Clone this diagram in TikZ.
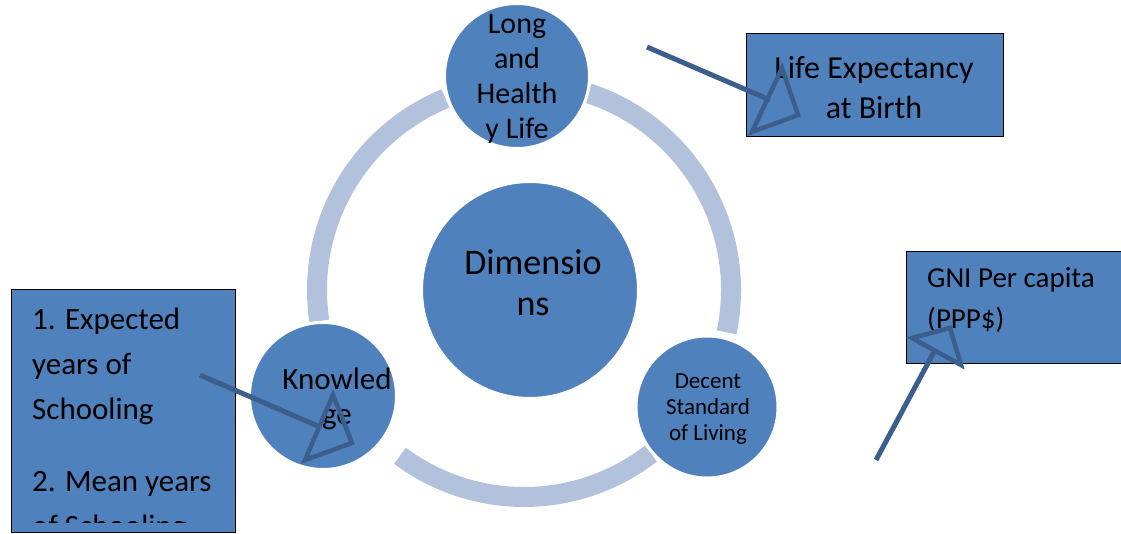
\documentclass[tikz,border=0pt]{standalone}
\usepackage{fontspec}
\setmainfont{Carlito}
\usepackage{xcolor}
\usetikzlibrary{calc}

\definecolor{dimblue}{HTML}{4F81BD}
\definecolor{ringblue}{HTML}{B2C2DD}
\definecolor{pointerblue}{HTML}{3B5E8D}

\tikzset{
    dimcircle/.style={circle, fill=dimblue, draw=white, line width=3pt, inner sep=0pt},
    infobox/.style={rectangle, fill=dimblue, draw=black, line width=1.3pt, inner sep=0pt, anchor=north west},
    ringarc/.style={draw=ringblue, line width=20pt},
    pointer/.style={draw=pointerblue, line width=5pt},
    pointerhead/.style={draw=pointerblue, line width=4.5pt, line join=miter},
    celltext/.style={inner sep=0pt, align=center, text=black},
}

\begin{document}
\begin{tikzpicture}[x=1pt,y=-1pt]
    \useasboundingbox (0,0) rectangle (1121,533);

    % Ring round the dimensions
    \coordinate (hub) at (524,290);
    \foreach \a/\b in {-112.3/-188.6, -233.2/-307.8, 11.8/-71.9}
        \draw [ringarc] ($(hub)+(\a:207)$) arc (\a:\b:207);

    % Circles
    \node [dimcircle, minimum size=217pt] (dims) at (530,290) {};
    \node [celltext, font=\fontsize{36}{41}\selectfont] (dims-text) at (533,283) {Dimensio\\ns};

    \node [dimcircle, minimum size=145pt] (health) at (517,76) {};
    \node [celltext, font=\fontsize{30}{35}\selectfont] (health-text) at (517,79) {Long\\and\\Health\\y Life};

    \node [dimcircle, minimum size=147pt] (know) at (323,396) {};
    \node [celltext, font=\fontsize{31}{35}\selectfont] (know-text) at (337,399) {Knowled\\ge};

    \node [dimcircle, minimum size=142pt] (living) at (707,407) {};
    \node [celltext, font=\fontsize{23}{26}\selectfont] (living-text) at (708,409) {Decent\\Standard\\of Living};

    % Indicator boxes
    \node [infobox, minimum width=257pt, minimum height=103pt] (life) at (746,33) {};
    \node [celltext, font=\fontsize{32}{40}\selectfont] (life-text) at (874,88) {Life Expectancy\\at Birth};

    \node [infobox, minimum width=224pt, minimum height=243pt] (school) at (11,289) {};
    \begin{scope}
        \clip (11,289) rectangle (235,522);
        \foreach \yy/\txt in {329/1. Expected, 374/years of, 419/Schooling, 491/2. Mean years, 536/of Schooling}
            \node [inner sep=0pt, anchor=base west, font=\fontsize{31}{37}\selectfont] (school-\yy) at (32,\yy) {\txt};
    \end{scope}

    \node [infobox, minimum width=230pt, minimum height=112pt] (gni) at (906,251) {};
    \node [inner sep=0pt, anchor=base west, font=\fontsize{29}{34}\selectfont] (gni-a) at (927,287) {GNI Per capita};
    \node [inner sep=0pt, anchor=base west, font=\fontsize{29}{34}\selectfont] (gni-b) at (927,328) {(PPP\$)};

    % Pointers with open heads
    \coordinate (life-tail) at (647,47);
    \coordinate (life-tip) at (770,100);
    \draw [pointer] (life-tail) -- (life-tip);
    \draw [pointerhead] (782,68) -- (798,115) -- (752,132) -- cycle;

    \coordinate (know-tail) at (200,375);
    \coordinate (know-tip) at (320,427);
    \draw [pointer] (know-tail) -- (know-tip);
    \draw [pointerhead] (333,395) -- (352,443) -- (305,460) -- cycle;

    \coordinate (gni-tail) at (876,460);
    \coordinate (gni-tip) at (935,350);
    \draw [pointer] (gni-tail) -- (gni-tip);
    \draw [pointerhead] (912,338) -- (950,328) -- (961,365) -- cycle;
\end{tikzpicture}
\end{document}
